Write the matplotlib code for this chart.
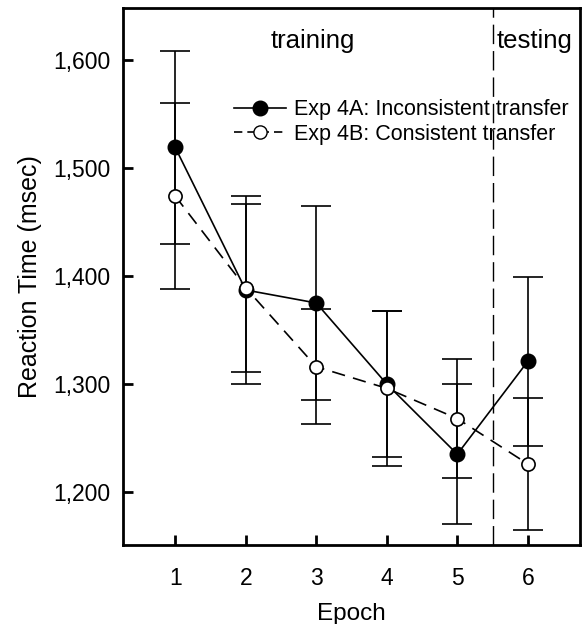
import matplotlib
matplotlib.use("Agg")
import matplotlib.pyplot as plt
from matplotlib.lines import Line2D

plt.rcParams['font.family'] = ['Liberation Sans', 'DejaVu Sans']

epochs = [1, 2, 3, 4, 5, 6]
rt_4a = [1519, 1387, 1375, 1300, 1235, 1321]
err_4a = [89, 87, 90, 68, 65, 78]
rt_4b = [1474, 1389, 1316, 1296, 1268, 1226]
err_4b = [86, 78, 53, 72, 55, 61]
yticks = [1200, 1300, 1400, 1500, 1600]
ytick_labels = ['1,200', '1,300', '1,400', '1,500', '1,600']

fig = plt.figure(figsize=(5.82, 6.24), dpi=100)
ax = fig.add_axes([123 / 582, 1 - 545 / 624, 457 / 582, 537 / 624])

ax.errorbar(epochs, rt_4a, yerr=err_4a, color='black', lw=1.2, marker='o',
            ms=10.5, mfc='black', mec='black', capsize=11, elinewidth=1.2,
            capthick=1.2, zorder=3)
ax.errorbar(epochs, rt_4b, yerr=err_4b, color='black', lw=1.2, ls=(0, (8, 5)),
            marker='o', ms=9.5, mfc='white', mec='black', mew=1.2, capsize=11,
            elinewidth=1.2, capthick=1.2, zorder=4)

ax.axvline(5.5, color='black', lw=1.0, ls=(0, (14, 5)))

ax.text(2.95, 1617, 'training', fontsize=18.5, ha='center', va='center')
ax.text(5.56, 1617, 'testing', fontsize=18.5, ha='left', va='center')

ax.set_xlim(0.26, 6.74)
ax.set_ylim(1151, 1648)
ax.set_xticks(epochs)
ax.set_yticks(yticks)
ax.set_yticklabels(ytick_labels)
ax.tick_params(direction='in', length=7, width=2, labelsize=16.5, pad=9)
ax.tick_params(axis='x', pad=16)
for s in ax.spines.values():
    s.set_linewidth(2)

ax.set_xlabel('Epoch', fontsize=17.5, labelpad=9)
ax.set_ylabel('Reaction Time (msec)', fontsize=18, labelpad=8)

handles = [
    Line2D([], [], color='black', lw=1.2, marker='o', ms=10.5, mfc='black'),
    Line2D([], [], color='black', lw=1.2, ls=(0, (5, 3)), marker='o', ms=9.5,
           mfc='white', mec='black'),
]
labels = ['Exp 4A: Inconsistent transfer', 'Exp 4B: Consistent transfer']
ax.legend(handles, labels, loc='upper left', bbox_to_anchor=(0.224, 0.846),
          frameon=False, fontsize=15.5, handlelength=2.4, handletextpad=0.4,
          labelspacing=0.15, borderaxespad=0)

fig.savefig('out.png', dpi=100)
